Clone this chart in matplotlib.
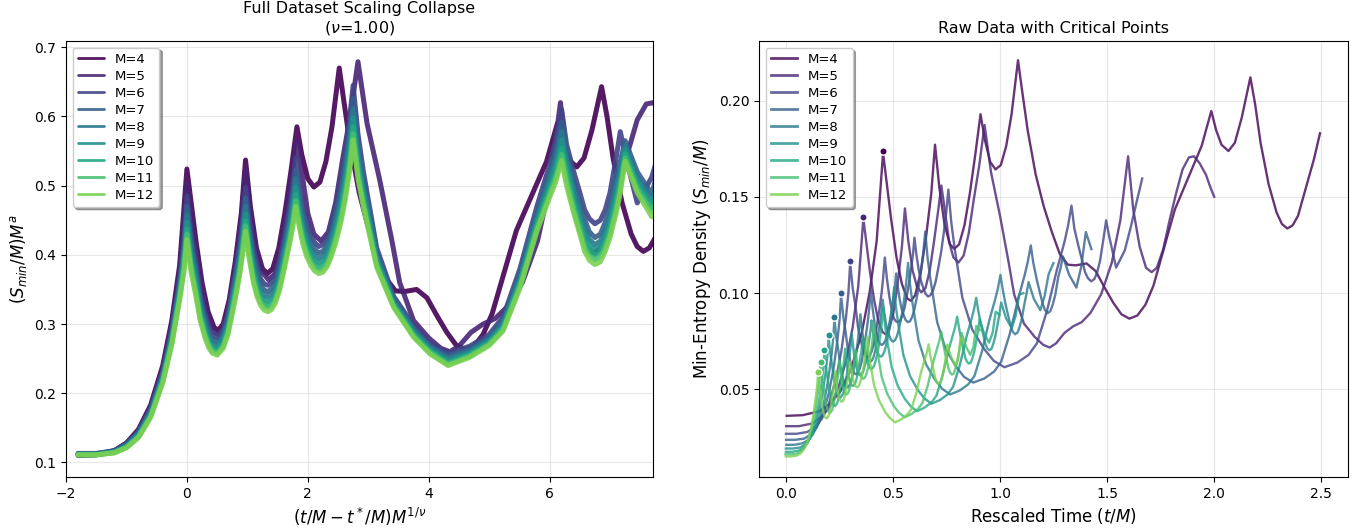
import numpy as np
import matplotlib
matplotlib.use("Agg")
import matplotlib.pyplot as plt

sizes = [4, 5, 6, 7, 8, 9, 10, 11, 12]
nu = 1.00
a_exp = 0.80
# t*/M of the critical points (dots in the right panel)
t_crit = [0.454, 0.362, 0.3005, 0.258, 0.227, 0.200, 0.180, 0.162, 0.150]

# collapsed coordinates: x = (t/M - t*/M) M^(1/nu), y = (S_min/M) M^a
x_m4 = [-1.8, -1.5, -1.2, -1.0, -0.8, -0.6, -0.4, -0.25, -0.12, 0.0,
        0.15, 0.25, 0.35, 0.45, 0.52, 0.6, 0.7, 0.8, 0.9, 0.97,
        1.05, 1.15, 1.25, 1.33, 1.42, 1.52, 1.62, 1.72, 1.82, 1.9,
        2.0, 2.1, 2.2, 2.3, 2.4, 2.52, 2.6, 2.7, 2.85, 3.0,
        3.15, 3.3, 3.45, 3.6, 3.8, 3.97, 4.15, 4.3, 4.45, 4.6,
        4.75, 4.9, 5.05, 5.2, 5.45, 5.7, 5.95, 6.13, 6.22, 6.32,
        6.45, 6.57, 6.7, 6.86, 6.95, 7.05, 7.2, 7.35, 7.45, 7.55,
        7.65, 7.75, 7.9, 8.05, 8.16]
y_m4 = [0.110, 0.111, 0.117, 0.128, 0.148, 0.183, 0.240, 0.305, 0.385, 0.524,
        0.420, 0.360, 0.318, 0.295, 0.291, 0.300, 0.335, 0.390, 0.460, 0.537,
        0.470, 0.410, 0.380, 0.373, 0.380, 0.410, 0.460, 0.520, 0.585, 0.545,
        0.510, 0.498, 0.505, 0.535, 0.585, 0.670, 0.620, 0.560, 0.490, 0.440,
        0.400, 0.365, 0.348, 0.347, 0.350, 0.338, 0.310, 0.288, 0.270, 0.263,
        0.268, 0.285, 0.315, 0.360, 0.435, 0.485, 0.535, 0.590, 0.560, 0.537,
        0.527, 0.540, 0.580, 0.643, 0.600, 0.540, 0.475, 0.430, 0.412, 0.405,
        0.410, 0.425, 0.470, 0.515, 0.555]

x_m5 = [-1.8, -1.5, -1.2, -1.0, -0.8, -0.6, -0.4, -0.25, -0.12, 0.0,
        0.15, 0.25, 0.35, 0.45, 0.52, 0.6, 0.7, 0.8, 0.9, 0.97,
        1.05, 1.15, 1.25, 1.35, 1.45, 1.55, 1.65, 1.75, 1.82, 1.9,
        2.0, 2.1, 2.22, 2.34, 2.46, 2.58, 2.7, 2.83, 2.98, 3.19,
        3.39, 3.52, 3.75, 4.0, 4.2, 4.35, 4.5, 4.7, 4.9, 5.1,
        5.3, 5.55, 5.8, 6.0, 6.18, 6.3, 6.45, 6.6, 6.73, 6.85,
        7.0, 7.15, 7.3, 7.45, 7.6, 7.72, 7.85, 8.0, 8.1, 8.19]
y_m5 = [0.112, 0.112, 0.117, 0.128, 0.146, 0.180, 0.236, 0.298, 0.375, 0.503,
        0.405, 0.350, 0.310, 0.289, 0.285, 0.293, 0.325, 0.380, 0.450, 0.522,
        0.460, 0.405, 0.375, 0.364, 0.372, 0.405, 0.460, 0.520, 0.565, 0.520,
        0.460, 0.430, 0.420, 0.433, 0.475, 0.540, 0.600, 0.679, 0.590, 0.508,
        0.421, 0.360, 0.305, 0.280, 0.265, 0.260, 0.268, 0.288, 0.300, 0.308,
        0.325, 0.360, 0.420, 0.500, 0.620, 0.520, 0.450, 0.410, 0.402, 0.410,
        0.445, 0.500, 0.550, 0.595, 0.618, 0.620, 0.607, 0.585, 0.562, 0.544]

# M = 6..12 share one x grid
x_grid = [-1.8, -1.5, -1.2, -1.0, -0.8, -0.6, -0.4, -0.25, -0.12, -0.05, 0.0,
          0.07, 0.15, 0.22, 0.3, 0.36, 0.42, 0.5, 0.6, 0.68, 0.75, 0.82, 0.88, 0.92, 0.97,
          1.03, 1.1, 1.16, 1.22, 1.28, 1.34, 1.40, 1.46, 1.53, 1.6, 1.66, 1.72, 1.76, 1.8,
          1.86, 1.92, 1.98, 2.05, 2.11, 2.18, 2.25, 2.32, 2.39, 2.47, 2.55, 2.62, 2.69, 2.75,
          2.83, 2.92, 3.14, 3.42, 3.75, 4.02, 4.32, 4.68, 5.0, 5.23, 5.51, 5.79, 6.0, 6.1, 6.2,
          6.28, 6.4, 6.5, 6.58, 6.66, 6.75, 6.84, 6.92, 7.0, 7.1, 7.17, 7.25, 7.45, 7.69,
          7.85, 8.0, 8.18]
y_m6 = [0.113, 0.113, 0.117, 0.127, 0.145, 0.178, 0.232, 0.292, 0.365, 0.420, 0.485,
        0.430, 0.390, 0.345, 0.315, 0.297, 0.284, 0.280, 0.292, 0.315, 0.350, 0.385, 0.420, 0.450, 0.497,
        0.450, 0.410, 0.385, 0.365, 0.358, 0.356, 0.360, 0.370, 0.390, 0.420, 0.448, 0.480, 0.505, 0.540,
        0.500, 0.470, 0.447, 0.430, 0.418, 0.412, 0.415, 0.425, 0.443, 0.475, 0.510, 0.550, 0.595, 0.645,
        0.575, 0.520, 0.410, 0.340, 0.298, 0.272, 0.258, 0.268, 0.285, 0.310, 0.380, 0.470, 0.530, 0.565, 0.610,
        0.560, 0.520, 0.490, 0.465, 0.452, 0.445, 0.450, 0.465, 0.490, 0.540, 0.578, 0.545, 0.475, 0.512,
        0.560, 0.610, 0.669]
y_m7 = [0.113, 0.113, 0.116, 0.126, 0.143, 0.175, 0.228, 0.287, 0.358, 0.409, 0.470,
        0.417, 0.378, 0.335, 0.307, 0.290, 0.278, 0.274, 0.286, 0.308, 0.342, 0.375, 0.409, 0.438, 0.482,
        0.437, 0.398, 0.374, 0.356, 0.349, 0.347, 0.351, 0.360, 0.380, 0.409, 0.436, 0.467, 0.491, 0.523,
        0.486, 0.457, 0.435, 0.419, 0.408, 0.403, 0.405, 0.415, 0.432, 0.462, 0.495, 0.533, 0.577, 0.626,
        0.559, 0.508, 0.403, 0.336, 0.294, 0.268, 0.254, 0.264, 0.281, 0.305, 0.373, 0.461, 0.519, 0.551, 0.592,
        0.550, 0.506, 0.475, 0.451, 0.433, 0.425, 0.430, 0.447, 0.470, 0.515, 0.535, 0.565, 0.520, 0.488,
        0.540, 0.625, 0.583]
y_m8 = [0.112, 0.112, 0.116, 0.124, 0.141, 0.172, 0.225, 0.283, 0.352, 0.401, 0.458,
        0.406, 0.369, 0.328, 0.300, 0.284, 0.273, 0.269, 0.280, 0.302, 0.335, 0.368, 0.401, 0.429, 0.470,
        0.426, 0.389, 0.366, 0.349, 0.342, 0.340, 0.343, 0.353, 0.372, 0.401, 0.427, 0.456, 0.479, 0.510,
        0.474, 0.446, 0.426, 0.411, 0.400, 0.395, 0.398, 0.407, 0.424, 0.451, 0.483, 0.520, 0.563, 0.611,
        0.547, 0.498, 0.398, 0.333, 0.291, 0.266, 0.250, 0.261, 0.278, 0.301, 0.368, 0.455, 0.510, 0.539, 0.578,
        0.540, 0.494, 0.463, 0.439, 0.422, 0.415, 0.420, 0.436, 0.458, 0.500, 0.525, 0.558, 0.512, 0.481,
        0.520, 0.580, 0.610]
y_m9 = [0.112, 0.112, 0.115, 0.123, 0.140, 0.170, 0.222, 0.279, 0.347, 0.393, 0.447,
        0.397, 0.360, 0.321, 0.294, 0.278, 0.268, 0.265, 0.276, 0.297, 0.329, 0.361, 0.393, 0.420, 0.459,
        0.417, 0.380, 0.358, 0.342, 0.335, 0.333, 0.337, 0.346, 0.365, 0.393, 0.419, 0.447, 0.469, 0.498,
        0.464, 0.437, 0.418, 0.403, 0.393, 0.389, 0.391, 0.400, 0.416, 0.442, 0.473, 0.508, 0.550, 0.598,
        0.536, 0.489, 0.393, 0.330, 0.288, 0.263, 0.247, 0.258, 0.275, 0.298, 0.363, 0.448, 0.502, 0.529, 0.566,
        0.530, 0.484, 0.453, 0.429, 0.414, 0.408, 0.412, 0.428, 0.449, 0.487, 0.515, 0.552, 0.505, 0.475,
        0.510, 0.575, 0.580]
y_m10 = [0.111, 0.111, 0.115, 0.122, 0.138, 0.168, 0.219, 0.275, 0.342, 0.386, 0.437,
         0.388, 0.352, 0.315, 0.288, 0.273, 0.264, 0.261, 0.271, 0.292, 0.323, 0.355, 0.386, 0.412, 0.449,
         0.408, 0.372, 0.351, 0.336, 0.329, 0.327, 0.330, 0.340, 0.358, 0.386, 0.412, 0.438, 0.459, 0.487,
         0.454, 0.428, 0.410, 0.396, 0.387, 0.382, 0.385, 0.393, 0.409, 0.433, 0.463, 0.497, 0.538, 0.585,
         0.526, 0.481, 0.389, 0.328, 0.285, 0.261, 0.244, 0.256, 0.273, 0.295, 0.359, 0.443, 0.494, 0.519, 0.554,
         0.520, 0.474, 0.444, 0.419, 0.406, 0.400, 0.404, 0.420, 0.440, 0.477, 0.507, 0.546, 0.500, 0.469,
         0.500, 0.570, 0.560]
y_m11 = [0.111, 0.111, 0.114, 0.122, 0.137, 0.167, 0.217, 0.273, 0.339, 0.380, 0.430,
         0.382, 0.346, 0.310, 0.284, 0.270, 0.261, 0.258, 0.268, 0.289, 0.319, 0.350, 0.380, 0.406, 0.442,
         0.402, 0.366, 0.345, 0.332, 0.325, 0.323, 0.326, 0.335, 0.353, 0.380, 0.406, 0.432, 0.452, 0.478,
         0.447, 0.422, 0.404, 0.390, 0.382, 0.378, 0.380, 0.388, 0.403, 0.427, 0.455, 0.488, 0.529, 0.575,
         0.518, 0.475, 0.385, 0.326, 0.283, 0.259, 0.242, 0.254, 0.271, 0.292, 0.355, 0.438, 0.489, 0.512, 0.545,
         0.510, 0.467, 0.437, 0.412, 0.399, 0.393, 0.397, 0.412, 0.432, 0.468, 0.498, 0.540, 0.495, 0.463,
         0.490, 0.565, 0.550]
y_m12 = [0.111, 0.111, 0.114, 0.121, 0.136, 0.165, 0.215, 0.270, 0.335, 0.375, 0.422,
         0.375, 0.340, 0.305, 0.280, 0.266, 0.258, 0.255, 0.265, 0.285, 0.315, 0.345, 0.375, 0.400, 0.434,
         0.395, 0.360, 0.340, 0.327, 0.320, 0.318, 0.321, 0.330, 0.348, 0.375, 0.400, 0.425, 0.445, 0.470,
         0.440, 0.415, 0.398, 0.385, 0.377, 0.373, 0.375, 0.383, 0.398, 0.420, 0.448, 0.480, 0.520, 0.566,
         0.510, 0.469, 0.382, 0.324, 0.281, 0.257, 0.240, 0.252, 0.269, 0.290, 0.352, 0.434, 0.483, 0.505, 0.536,
         0.500, 0.460, 0.430, 0.405, 0.392, 0.386, 0.390, 0.405, 0.425, 0.460, 0.490, 0.535, 0.490, 0.455,
         0.480, 0.560, 0.545]

curves = {
    4: (x_m4, y_m4), 5: (x_m5, y_m5), 6: (x_grid, y_m6), 7: (x_grid, y_m7),
    8: (x_grid, y_m8), 9: (x_grid, y_m9), 10: (x_grid, y_m10),
    11: (x_grid, y_m11), 12: (x_grid, y_m12),
}

colors = plt.cm.viridis(np.linspace(0, 0.8, len(sizes)))

fig = plt.figure(figsize=(13.64, 5.29), dpi=100)
ax1 = fig.add_axes([0.0484, 0.0983, 0.4303, 0.8242])
ax2 = fig.add_axes([0.5565, 0.0983, 0.4318, 0.8242])

for M, tc, c in zip(sizes, t_crit, colors):
    x, y = np.array(curves[M][0]), np.array(curves[M][1])
    # left: collapsed data
    ax1.plot(x, y, color=c, lw=3.6, alpha=0.9, label=f"M={M}",
             solid_joinstyle="round", solid_capstyle="round")
    # right: back to raw t/M and S_min/M
    t_over_m = tc + x / M ** (1.0 / nu)
    s_over_m = y / M ** a_exp
    ax2.plot(t_over_m, s_over_m, color=c, lw=1.7, alpha=0.8, label=f"M={M}",
             solid_joinstyle="round")
    i0 = int(np.argmin(np.abs(x)))
    ax2.scatter([tc], [s_over_m[i0] + 0.001], color=c, s=28,
                edgecolors="white", linewidths=1.0, zorder=5)

ax1.set_xlim(-2, 7.71)
ax1.set_ylim(0.079, 0.709)
ax1.set_title("Full Dataset Scaling Collapse\n($\\nu$=1.00)", fontsize=11.5)
ax1.set_xlabel("$(t/M - t^*/M)M^{1/\\nu}$", fontsize=12)
ax1.set_ylabel("$(S_{min}/M)M^a$", fontsize=12)

ax2.set_xlim(-0.125, 2.625)
ax2.set_ylim(0.0045, 0.231)
ax2.set_yticks([0.05, 0.10, 0.15, 0.20])
ax2.set_title("Raw Data with Critical Points", fontsize=11.5)
ax2.set_xlabel("Rescaled Time $(t/M)$", fontsize=12)
ax2.set_ylabel("Min-Entropy Density $(S_{min}/M)$", fontsize=12)

for ax in (ax1, ax2):
    ax.grid(True, alpha=0.3)
    ax.tick_params(labelsize=10)
    leg = ax.legend(loc="upper left", fontsize=9.5, shadow=True,
                    fancybox=True, labelspacing=0.3)
    for h in leg.get_lines():
        h.set_linewidth(2)

fig.savefig("out.png", dpi=100)
